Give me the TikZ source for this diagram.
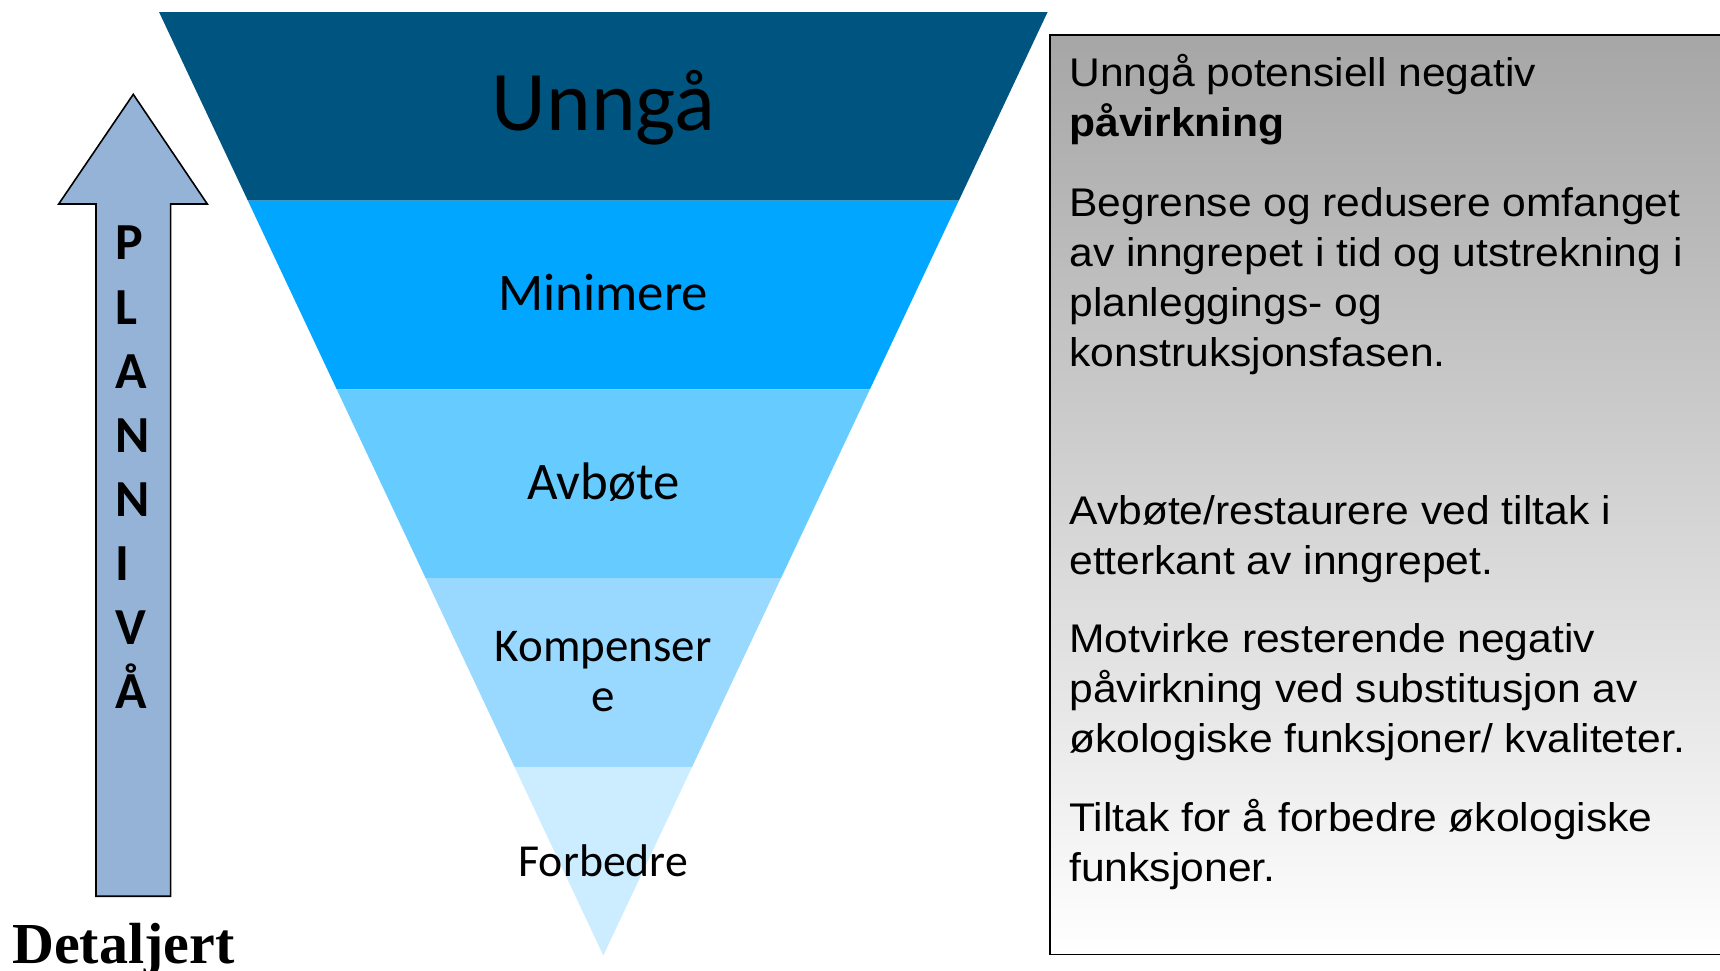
\documentclass[tikz,border=0pt]{standalone}
\usepackage{fontspec}
\setmainfont{Liberation Sans}[FakeStretch=1.065]
\newfontfamily\calibrifont{Carlito}
\newfontfamily\timesfont{Liberation Serif}
\usetikzlibrary{calc}

\definecolor{avoidblue}{RGB}{0,84,128}
\definecolor{minblue}{RGB}{0,166,255}
\definecolor{mitblue}{RGB}{102,204,255}
\definecolor{compblue}{RGB}{153,217,255}
\definecolor{enhblue}{RGB}{204,236,255}
\definecolor{arrowfill}{RGB}{149,179,215}
\definecolor{panelgray}{RGB}{166,166,166}

\begin{document}
\begin{tikzpicture}[x=0.5485pt, y=-0.5485pt,
    layer label/.style={anchor=base, inner sep=0pt, align=center},
    panel text/.style={anchor=base west, inner sep=0pt, align=left, font=\fontsize{20}{25}\selectfont},
  ]
  \useasboundingbox (0,0) rectangle (1568,885);

  % funnel corners
  \coordinate (funnel-tl) at (145,11);
  \coordinate (funnel-tr) at (955,11);
  \coordinate (funnel-tip) at (550,871);

  % funnel layers, top to bottom
  \foreach \col [count=\i] in {avoidblue, minblue, mitblue, compblue, enhblue} {
    \pgfmathsetmacro{\ta}{(\i-1)/5}
    \pgfmathsetmacro{\tb}{\i/5}
    \fill[\col] ($(funnel-tl)!\ta!(funnel-tip)$) -- ($(funnel-tr)!\ta!(funnel-tip)$)
      -- ($(funnel-tr)!\tb!(funnel-tip)$) -- ($(funnel-tl)!\tb!(funnel-tip)$) -- cycle;
  }

  \node[layer label, font=\calibrifont\fontsize{42.5}{50}\selectfont] (lbl-avoid) at (550,119) {Unngå};
  \node[layer label, font=\calibrifont\fontsize{26.4}{30}\selectfont] (lbl-minimise) at (550,283) {Minimere};
  \node[layer label, font=\calibrifont\fontsize{26.4}{30}\selectfont] (lbl-mitigate) at (550,455) {Avbøte};
  \node[layer label, font=\calibrifont\fontsize{23.5}{25.3}\selectfont] (lbl-compensate) at (550,648.8) {Kompenser\\e};
  \node[layer label, font=\calibrifont\fontsize{22.9}{26}\selectfont] (lbl-enhance) at (550,798.6) {Forbedre};

  % planning level arrow
  \coordinate (arrow-tip) at (121.5,86);
  \draw[fill=arrowfill, line width=0.8pt, line join=miter] (arrow-tip) -- (189,186) -- (155.5,186)
    -- (155.5,817) -- (87.5,817) -- (87.5,186) -- (53.5,186) -- cycle;

  \foreach \ch [count=\i from 0] in {P,L,A,N,N,I,V,Å}
    \node[anchor=base west, inner sep=0pt, font=\calibrifont\bfseries\fontsize{26}{30}\selectfont] (plan-\i) at (105,{237+58.4*\i}) {\ch};

  \node[anchor=base west, inner sep=0pt, font=\timesfont\bfseries\fontsize{29}{32}\selectfont] (detail-label) at (10.7,878) {Detaljert};

  % description panel
  \draw[line width=0.75pt, top color=panelgray, bottom color=white] (957,32) rectangle (1600,870);

  \node[panel text] (par-avoid) at (974.5,124) {Unngå potensiell negativ\\\textbf{påvirkning}};
  \node[panel text] (par-minimise) at (974.5,333.8) {Begrense og redusere omfanget\\av inngrepet i tid og utstrekning i\\planleggings- og\\konstruksjonsfasen.};
  \node[panel text] (par-mitigate) at (974.5,523.6) {Avbøte/restaurere ved tiltak i\\etterkant av inngrepet.};
  \node[panel text] (par-compensate) at (974.5,686.2) {Motvirke resterende negativ\\påvirkning ved substitusjon av\\økologiske funksjoner/ kvaliteter.};
  \node[panel text] (par-enhance) at (974.5,803.8) {Tiltak for å forbedre økologiske\\funksjoner.};

\end{tikzpicture}
\end{document}
